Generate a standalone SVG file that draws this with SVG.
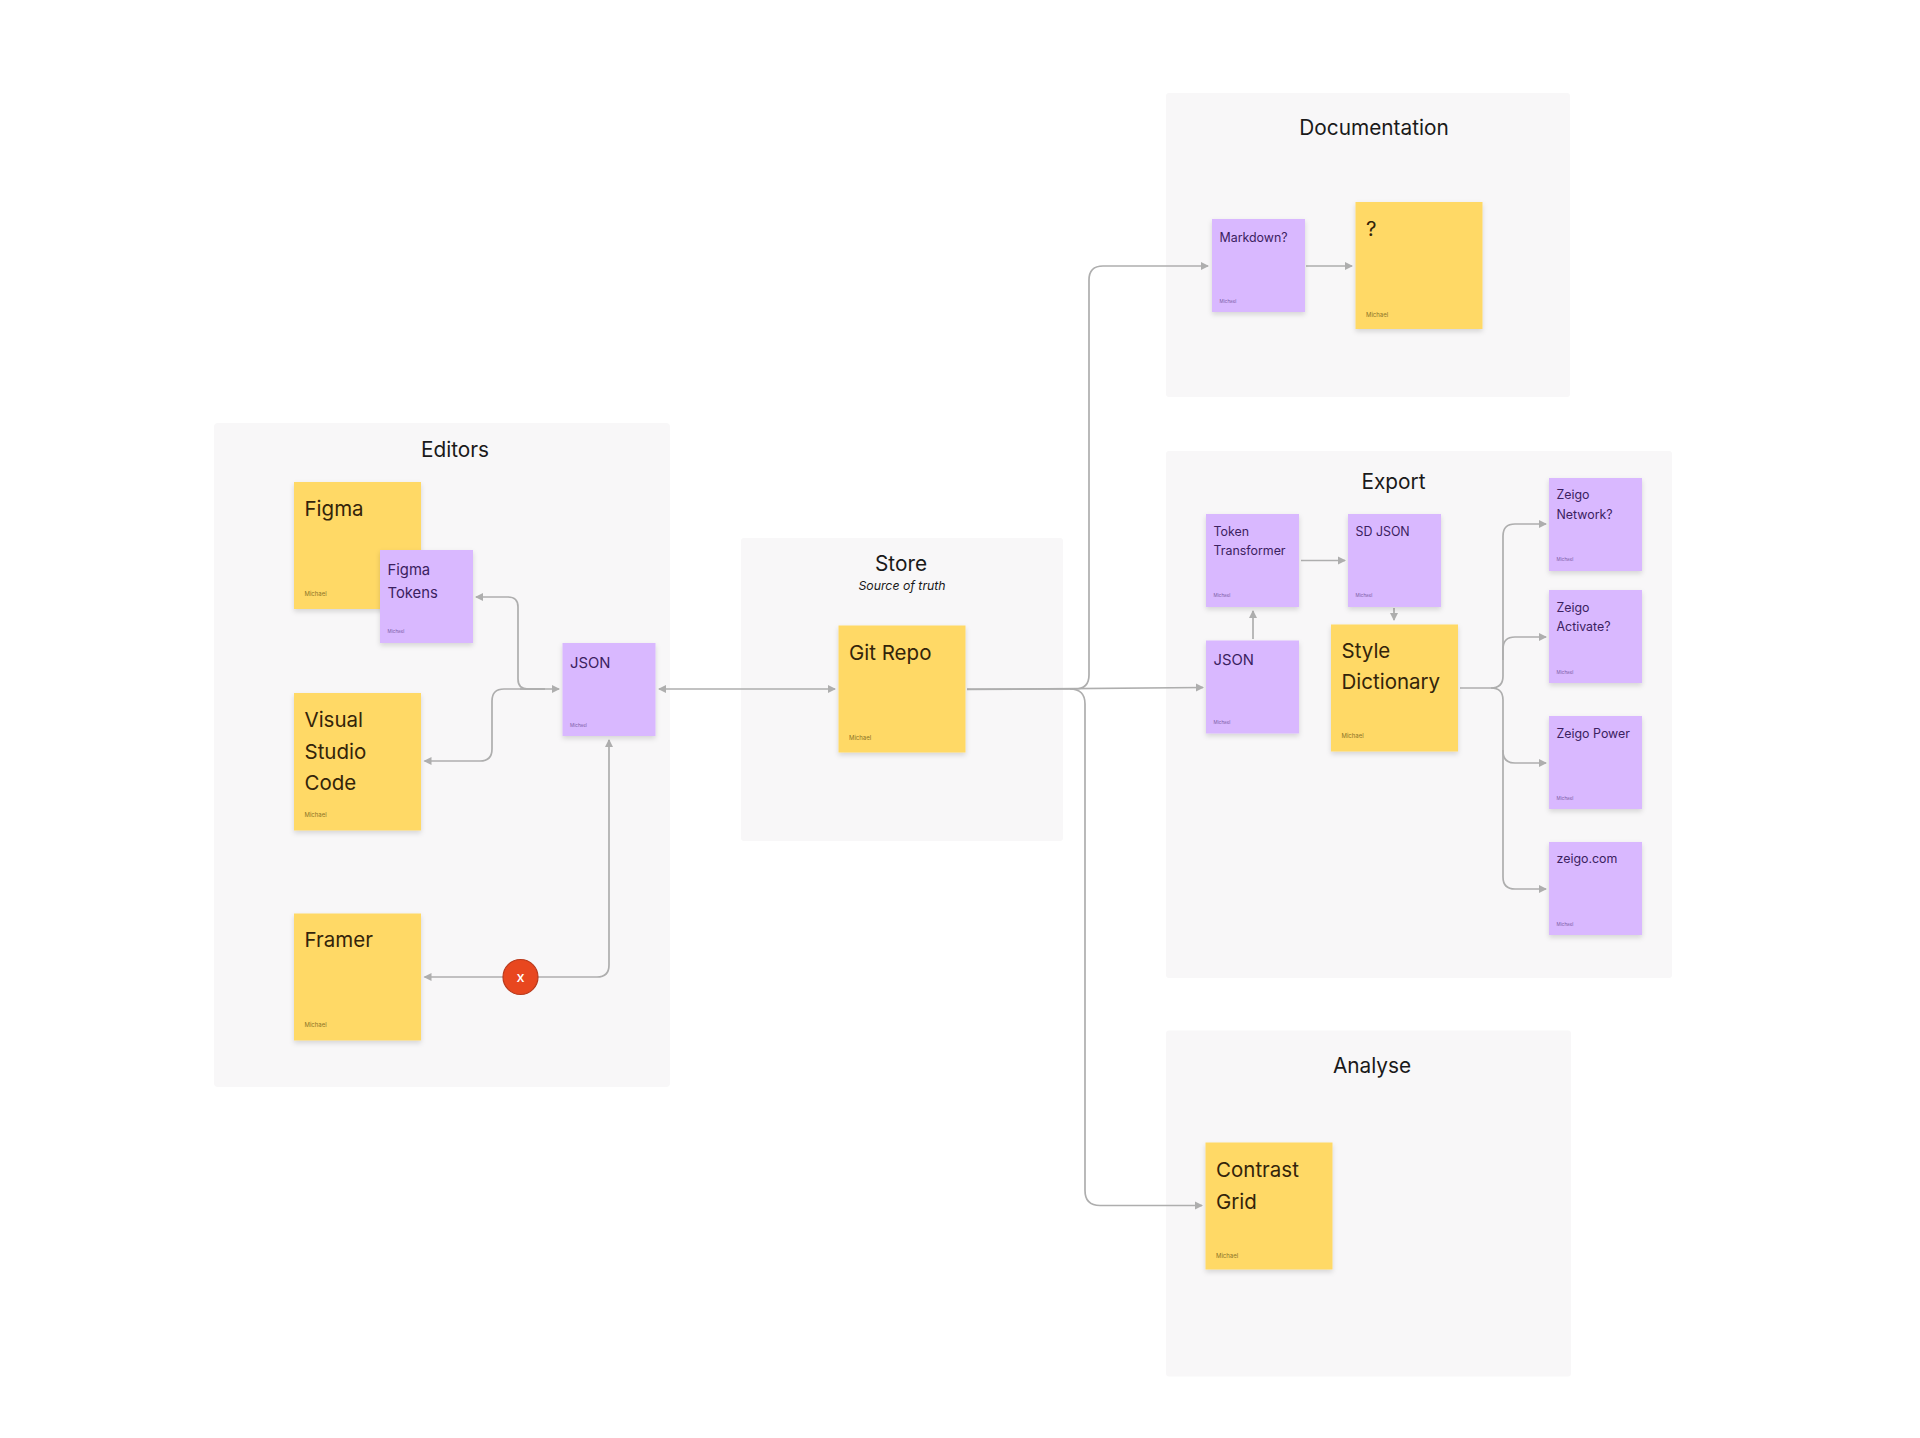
<svg xmlns="http://www.w3.org/2000/svg" width="1920" height="1438" viewBox="0 0 1920 1438">
<style>
text{font-family:Inter,"Noto Sans","Liberation Sans",sans-serif}
.panel{fill:#f8f7f8}
.title{font-size:20.8px;fill:#1a1a1a;text-anchor:middle}
.sub{font-size:12.3px;font-style:italic;fill:#1a1a1a;text-anchor:middle}
.y rect{fill:#ffd966;filter:url(#sh)}
.p rect{fill:#d9b8ff;filter:url(#sh)}
.y text{fill:#33240a}
.p text{fill:#3b2160}
.l{font-size:20.5px;transform:translate(-0.5px,-1px)}
.m{font-size:14.8px;transform:translate(-0.5px,-1px)}
.s{font-size:12.4px;transform:translate(-0.5px,-1px)}
.y .a{font-size:6px;fill:#8c7426;transform:translate(-0.5px,-0.5px)}
.p .a{font-size:4.6px;fill:#7d5fa8;transform:translate(-0.5px,-0.5px)}
.c{fill:none;stroke:#aeaeae;stroke-width:1.7;marker-end:url(#ah)}
.cs{marker-start:url(#ahs)}
</style>
<defs>
<filter id="sh" x="-15%" y="-15%" width="130%" height="130%"><feDropShadow dx="0" dy="2.5" stdDeviation="2.5" flood-color="#000" flood-opacity="0.14"/></filter>
<marker id="ah" markerUnits="userSpaceOnUse" markerWidth="10" markerHeight="10" refX="7" refY="5" orient="auto"><path d="M0 1L8 5L0 9Z" fill="#aeaeae"/></marker>
<marker id="ahs" markerUnits="userSpaceOnUse" markerWidth="10" markerHeight="10" refX="1" refY="5" orient="auto"><path d="M8 1L0 5L8 9Z" fill="#aeaeae"/></marker>
</defs>
<rect width="1920" height="1438" fill="#ffffff"/>
<g id="panels">
<g id="panel-editors"><rect class="panel" x="214" y="423" width="456" height="664" rx="4"/><text class="title" x="455" y="457">Editors</text></g>
<g id="panel-store"><rect class="panel" x="741" y="538" width="322" height="303" rx="3"/><text class="title" x="901" y="571">Store</text><text class="sub" x="902" y="590">Source of truth</text></g>
<g id="panel-documentation"><rect class="panel" x="1166" y="93" width="404" height="304" rx="3"/><text class="title" x="1374" y="135">Documentation</text></g>
<g id="panel-export"><rect class="panel" x="1166" y="451" width="506" height="527" rx="3"/><text class="title" x="1393.500" y="489">Export</text></g>
<g id="panel-analyse"><rect class="panel" x="1166" y="1030.500" width="405" height="346" rx="3"/><text class="title" x="1372" y="1073">Analyse</text></g>
</g>
<g id="connectors">
<path class="c" d="M545 689H528Q518 689 518 679V607Q518 597 508 597H476"/>
<path class="c" d="M545 689H504Q492 689 492 701V749Q492 761 480 761H424.500"/>
<path class="c" d="M520 689H559"/>
<path class="c cs" d="M659 689H835"/>
<path class="c cs" d="M609 740V965Q609 977 597 977H424.500"/>
<path class="c" d="M967 689H1075Q1089 689 1089 675V280Q1089 266 1103 266H1208"/>
<path class="c" d="M967 689.500L1203 687.500"/>
<path class="c" d="M1070 689Q1085 689 1085 704V1190.500Q1085 1205.500 1100 1205.500H1202"/>
<path class="c" d="M1306 266H1352"/>
<path class="c" d="M1253 639V611"/>
<path class="c" d="M1301 560.500H1345"/>
<path class="c" d="M1394 608V620"/>
<path class="c" d="M1460 688H1491Q1503 688 1503 676V536Q1503 524 1515 524H1546"/>
<path class="c" d="M1503 660V649Q1503 637 1515 637H1546"/>
<path class="c" d="M1491 688Q1503 688 1503 700V751Q1503 763 1515 763H1546"/>
<path class="c" d="M1503 750V877Q1503 889 1515 889H1546"/>
</g>
<g id="node-figma" class="y"><rect x="294" y="482" width="127" height="127"/><text class="l" x="305" y="516.500">Figma</text><text class="a" x="305" y="596.500">Michael</text></g>
<g id="node-figma-tokens" class="p"><rect x="380" y="550" width="93" height="93"/><text class="m" x="388" y="575.500">Figma</text><text class="m" x="388" y="598.500">Tokens</text><text class="a" x="388" y="633.500">Michael</text></g>
<g id="node-vscode" class="y"><rect x="294" y="693" width="127" height="137.500"/><text class="l" x="305" y="727.500">Visual</text><text class="l" x="305" y="759.500">Studio</text><text class="l" x="305" y="791">Code</text><text class="a" x="305" y="817.500">Michael</text></g>
<g id="node-framer" class="y"><rect x="294" y="913.500" width="127" height="127"/><text class="l" x="305" y="948">Framer</text><text class="a" x="305" y="1027.500">Michael</text></g>
<g id="node-json" class="p"><rect x="562.500" y="643" width="93" height="93"/><text class="m" x="570.500" y="668.500">JSON</text><text class="a" x="570.500" y="727.500">Michael</text></g>
<g id="node-x"><circle cx="520.500" cy="977" r="17.500" fill="#e8471f" stroke="#b93a1c" stroke-width="1.200"/><text x="520.500" y="982" font-size="14.500" font-weight="500" fill="#ffffff" text-anchor="middle">x</text></g>
<g id="node-git" class="y"><rect x="838.500" y="625.500" width="127" height="127"/><text class="l" x="849.500" y="660.500">Git Repo</text><text class="a" x="849.500" y="740.500">Michael</text></g>
<g id="node-markdown" class="p"><rect x="1212" y="219" width="93" height="93"/><text class="s" x="1220" y="242.500">Markdown?</text><text class="a" x="1220" y="303.500">Michael</text></g>
<g id="node-question" class="y"><rect x="1355.500" y="202" width="127" height="127"/><text class="l" x="1366.500" y="237">?</text><text class="a" x="1366.500" y="317">Michael</text></g>
<g id="node-token-transformer" class="p"><rect x="1206" y="514" width="93" height="93"/><text class="s" x="1214" y="536.500">Token</text><text class="s" x="1214" y="555.500">Transformer</text><text class="a" x="1214" y="597.500">Michael</text></g>
<g id="node-sd-json" class="p"><rect x="1348" y="514" width="93" height="93"/><text class="s" x="1356" y="536.500">SD JSON</text><text class="a" x="1356" y="597.500">Michael</text></g>
<g id="node-json2" class="p"><rect x="1206" y="640.500" width="93" height="93"/><text class="m" x="1214" y="666">JSON</text><text class="a" x="1214" y="724.500">Michael</text></g>
<g id="node-style-dictionary" class="y"><rect x="1331" y="624.500" width="127" height="127"/><text class="l" x="1342" y="658.500">Style</text><text class="l" x="1342" y="690">Dictionary</text><text class="a" x="1342" y="738">Michael</text></g>
<g id="node-network" class="p"><rect x="1549" y="478" width="93" height="93"/><text class="s" x="1557" y="500">Zeigo</text><text class="s" x="1557" y="519.500">Network?</text><text class="a" x="1557" y="561.500">Michael</text></g>
<g id="node-activate" class="p"><rect x="1549" y="590" width="93" height="93"/><text class="s" x="1557" y="612.500">Zeigo</text><text class="s" x="1557" y="631.500">Activate?</text><text class="a" x="1557" y="674">Michael</text></g>
<g id="node-power" class="p"><rect x="1549" y="716" width="93" height="93"/><text class="s" x="1557" y="739">Zeigo Power</text><text class="a" x="1557" y="800">Michael</text></g>
<g id="node-zeigo-com" class="p"><rect x="1549" y="842" width="93" height="93"/><text class="s" x="1557" y="864">zeigo.com</text><text class="a" x="1557" y="926">Michael</text></g>
<g id="node-contrast" class="y"><rect x="1205.500" y="1142.500" width="127" height="127"/><text class="l" x="1216.500" y="1177.500">Contrast</text><text class="l" x="1216.500" y="1209.500">Grid</text><text class="a" x="1216.500" y="1258">Michael</text></g>
</svg>
